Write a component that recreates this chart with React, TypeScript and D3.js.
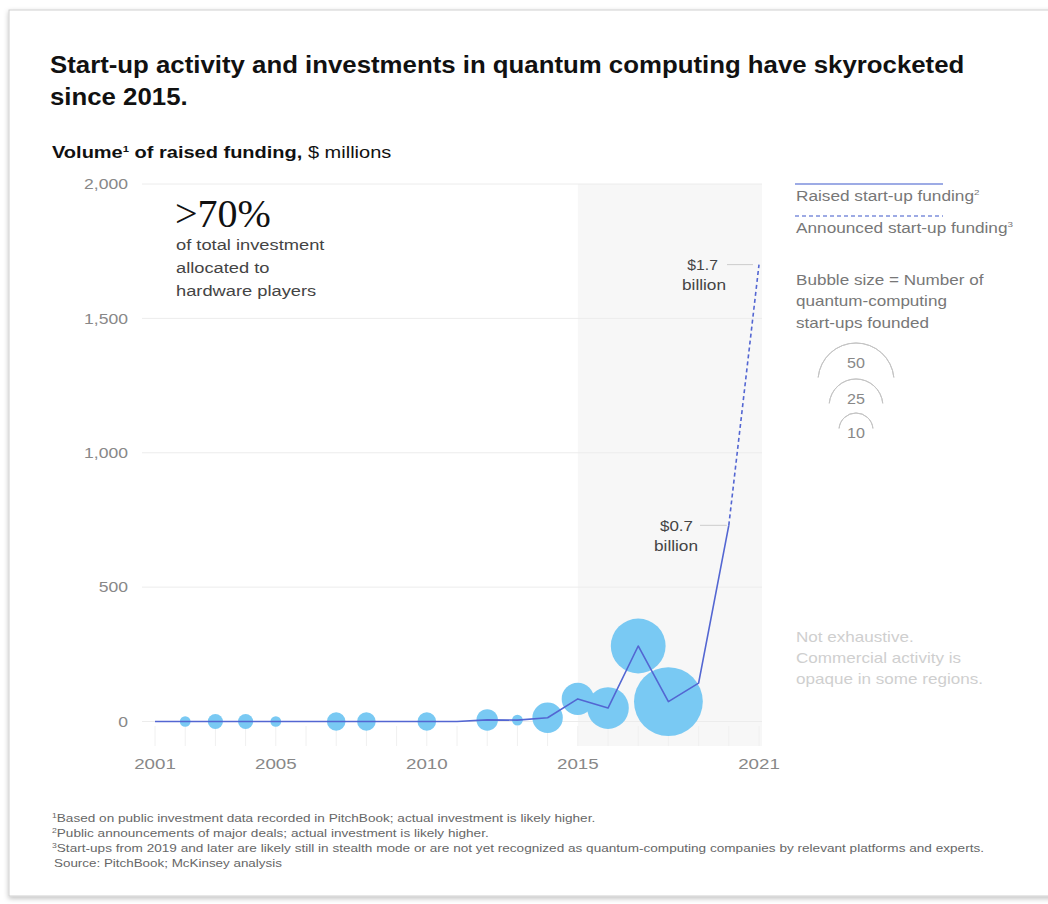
import React from "react";
import * as d3 from "d3";

const raisedYears = [2001, 2002, 2003, 2004, 2005, 2006, 2007, 2008, 2009, 2010, 2011, 2012, 2013, 2014, 2015, 2016, 2017, 2018, 2019, 2020];
const raisedValues = [0, 0, 0, 0, 0, 0, 0, 0, 0, 0, 0, 6, 5, 14, 84, 50, 281, 74, 143, 730];
const announcedYears = [2020, 2021];
const announcedValues = [730, 1700];

const bubbleYears = [2002, 2003, 2004, 2005, 2007, 2008, 2010, 2012, 2013, 2014, 2015, 2016, 2017, 2018];
const bubbleStartups = [1, 2, 2, 1, 3, 3, 3, 4, 1, 8, 9, 15, 26, 41];

const yTicks = [0, 500, 1000, 1500, 2000];
const xTickLabels = [2001, 2005, 2010, 2015, 2021];
const legendSizes = [50, 25, 10];

const FONT = "'Liberation Sans', Arial, sans-serif";

function T({ x, y, sx = 1.22, children, ...rest }: any) {
  return (
    <text transform={`translate(${x},${y}) scale(${sx},1)`} {...rest}>
      {children}
    </text>
  );
}

export default function App() {
  const x = d3.scaleLinear().domain([2001, 2021]).range([155, 759]);
  const y = d3.scaleLinear().domain([0, 2000]).range([721.5, 184]);
  const r = d3.scaleSqrt().domain([0, 50]).range([0, 38]);

  const line = d3
    .line<number>()
    .x((_, i) => x(raisedYears[i]))
    .y((d) => y(d));
  const dashLine = d3
    .line<number>()
    .x((_, i) => x(announcedYears[i]))
    .y((d) => y(d));

  const allYears = d3.range(2001, 2022);
  const lineColor = "#5366d2";
  const bubbleColor = "#79c9f3";
  const idx2020 = raisedYears.indexOf(2020);

  const legendCx = 856;
  const legendTops = [343, 379, 413];
  const arc = d3.arc();

  const y07 = y(raisedValues[idx2020]);
  const y17 = y(announcedValues[1]);

  return (
    <svg width={1048} height={904} style={{ position: "absolute", left: 0, top: 0 }} fontFamily={FONT}>
      <defs>
        <filter id="shadow" x="-5%" y="-5%" width="110%" height="110%">
          <feDropShadow dx="0" dy="2" stdDeviation="2.5" floodColor="#000" floodOpacity="0.25" />
        </filter>
      </defs>
      <rect x={0} y={0} width={1048} height={904} fill="#fff" />
      <rect x={9} y={10} width={1060} height={886} fill="#fff" stroke="#cfcfcf" strokeWidth={1} filter="url(#shadow)" />

      {/* Title */}
      <T x={50} y={73} sx={1.075} fontSize={24} fontWeight="bold" fill="#111">
        Start-up activity and investments in quantum computing have skyrocketed
      </T>
      <T x={50} y={105} sx={1.075} fontSize={24} fontWeight="bold" fill="#111">
        since 2015.
      </T>
      <T x={52} y={158} sx={1.25} fontSize={16} fill="#111">
        <tspan fontWeight="bold">Volume</tspan>
        <tspan fontWeight="bold" fontSize={9} dy={-6}>1</tspan>
        <tspan fontWeight="bold" dy={6}> of raised funding,</tspan>
        <tspan> $ millions</tspan>
      </T>

      {/* Shaded region */}
      <rect x={x(2015)} y={y(2000)} width={762 - x(2015)} height={746 - y(2000)} fill="#f7f7f7" />

      {/* Gridlines */}
      {yTicks.map((t) => (
        <line key={t} x1={142} x2={762} y1={y(t)} y2={y(t)} stroke="#ececec" strokeWidth={1} />
      ))}
      {allYears.map((yr) => (
        <line key={yr} x1={x(yr)} x2={x(yr)} y1={726} y2={746} stroke="#f0f0f0" strokeWidth={1} />
      ))}

      {/* Y labels */}
      {yTicks.map((t) => (
        <T key={t} x={128} y={y(t)} sx={1.17} dy="0.35em" textAnchor="end" fontSize={15} fill="#888">
          {d3.format(",")(t)}
        </T>
      ))}
      {/* X labels */}
      {xTickLabels.map((t) => (
        <T key={t} x={x(t)} y={769} sx={1.25} textAnchor="middle" fontSize={15} fill="#888">
          {t}
        </T>
      ))}

      {/* Bubbles */}
      {bubbleYears.map((yr, i) => {
        const vi = raisedYears.indexOf(yr);
        return <circle key={yr} cx={x(yr)} cy={y(raisedValues[vi])} r={r(bubbleStartups[i])} fill={bubbleColor} />;
      })}

      {/* Lines */}
      <path d={line(raisedValues) || ""} fill="none" stroke={lineColor} strokeWidth={1.6} strokeLinejoin="round" />
      <path d={dashLine(announcedValues) || ""} fill="none" stroke={lineColor} strokeWidth={1.6} strokeDasharray="4,3" />

      {/* Annotations */}
      <line x1={700} x2={x(2020) - 2} y1={y07} y2={y07} stroke="#ccc" />
      <T x={693} y={y07} sx={1.13} dy="0.35em" textAnchor="end" fontSize={15} fill="#444">$0.7</T>
      <T x={676} y={y07 + 20} sx={1.15} dy="0.35em" textAnchor="middle" fontSize={15} fill="#444">billion</T>
      <line x1={727} x2={x(2021) - 6} y1={y17} y2={y17} stroke="#ccc" />
      <T x={718} y={y17} sx={1.05} dy="0.35em" textAnchor="end" fontSize={15} fill="#444">$1.7</T>
      <T x={704} y={y17 + 20} sx={1.15} dy="0.35em" textAnchor="middle" fontSize={15} fill="#444">billion</T>

      {/* >70% callout */}
      <text x={175} y={227} fontSize={40} fontFamily="'Liberation Serif', 'DejaVu Serif', serif" fill="#111">&gt;70%</text>
      <T x={176} y={250} fontSize={15} fill="#444">of total investment</T>
      <T x={176} y={273} fontSize={15} fill="#444">allocated to</T>
      <T x={176} y={296} fontSize={15} fill="#444">hardware players</T>

      {/* Legend */}
      <line x1={795} x2={943} y1={184} y2={184} stroke="#7d8fdc" strokeWidth={1.5} />
      <T x={796} y={201} sx={1.23} fontSize={14} fill="#777">
        Raised start-up funding<tspan fontSize={8} dy={-6}>2</tspan>
      </T>
      <line x1={795} x2={943} y1={216} y2={216} stroke="#7d8fdc" strokeWidth={1.5} strokeDasharray="4,3" />
      <T x={796} y={233} sx={1.23} fontSize={14} fill="#777">
        Announced start-up funding<tspan fontSize={8} dy={-6}>3</tspan>
      </T>
      <T x={796} y={285} fontSize={14} fill="#777">Bubble size = Number of</T>
      <T x={796} y={306} fontSize={14} fill="#777">quantum-computing</T>
      <T x={796} y={328} fontSize={14} fill="#777">start-ups founded</T>
      {legendSizes.map((s, i) => {
        const rr = r(s);
        const cy = legendTops[i] + rr;
        const d = arc({ innerRadius: rr, outerRadius: rr, startAngle: -Math.PI * 0.47, endAngle: Math.PI * 0.47 }) || "";
        return (
          <g key={s}>
            <path d={d} transform={`translate(${legendCx},${cy})`} fill="none" stroke="#c4c4c4" strokeWidth={1} />
            <T x={legendCx} y={legendTops[i] + 20} sx={1.15} dy="0.35em" textAnchor="middle" fontSize={14} fill="#888">
              {s}
            </T>
          </g>
        );
      })}

      {/* Not exhaustive */}
      <T x={796} y={642} fontSize={14} fill="#cfcfcf">Not exhaustive.</T>
      <T x={796} y={663} fontSize={14} fill="#cfcfcf">Commercial activity is</T>
      <T x={796} y={684} fontSize={14} fill="#cfcfcf">opaque in some regions.</T>

      {/* Footnotes */}
      <T x={52} y={822} sx={1.235} fontSize={11} fill="#666">
        <tspan fontSize={7} dy={-4}>1</tspan>
        <tspan dy={4}>Based on public investment data recorded in PitchBook; actual investment is likely higher.</tspan>
      </T>
      <T x={52} y={837} sx={1.235} fontSize={11} fill="#666">
        <tspan fontSize={7} dy={-4}>2</tspan>
        <tspan dy={4}>Public announcements of major deals; actual investment is likely higher.</tspan>
      </T>
      <T x={52} y={852} sx={1.235} fontSize={11} fill="#666">
        <tspan fontSize={7} dy={-4}>3</tspan>
        <tspan dy={4}>Start-ups from 2019 and later are likely still in stealth mode or are not yet recognized as quantum-computing companies by relevant platforms and experts.</tspan>
      </T>
      <T x={54} y={867} sx={1.22} fontSize={11} fill="#666">Source: PitchBook; McKinsey analysis</T>
    </svg>
  );
}
